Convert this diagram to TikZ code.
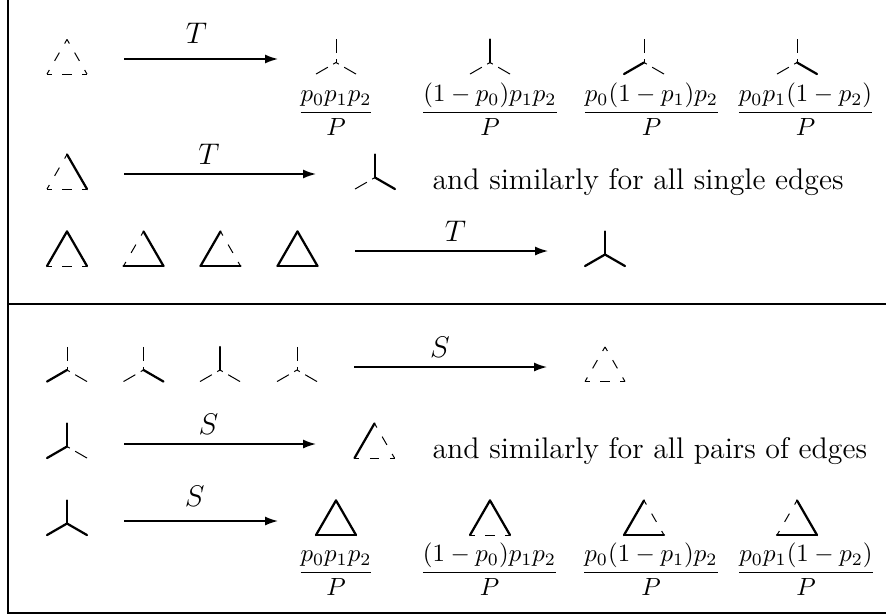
\documentclass[tikz,border=0pt]{standalone}
\usepackage{amsmath}
\usetikzlibrary{arrows.meta}
\newcommand\mytri[5]{%
  \draw[#3] ({#1},{#2-23.09}) -- ({#1-20},{#2+11.55});
  \draw[#4] ({#1},{#2-23.09}) -- ({#1+20},{#2+11.55});
  \draw[#5] ({#1-20},{#2+11.55}) -- ({#1+20},{#2+11.55});}
\newcommand\mytrip[5]{%
  \draw[#3] ({#1},{#2-23.09}) -- ({#1},{#2});
  \draw[#4] ({#1-20},{#2+11.55}) -- ({#1},{#2});
  \draw[#5] ({#1+20},{#2+11.55}) -- ({#1},{#2});}
\begin{document}
\begin{tikzpicture}[x=0.4023pt,y=-0.4023pt,
  dsh/.style={line width=0.4pt, dash pattern=on 3.8pt off 4.25pt, dash phase=1.9pt},
  sld/.style={line width=0.9pt, line cap=round},
  arm/.style={line width=0.4pt, dash pattern=on 5.5pt off 2.5pt},
  arr/.style={line width=0.6pt, -{Latex[length=5.2pt,width=3.6pt]}},
  lab/.style={inner sep=0pt, font=\large},
  txt/.style={anchor=base west, inner sep=0pt, font=\large},
  frc/.style={anchor=base, inner sep=0pt},
  rulel/.style={line width=0.5pt}]
\useasboundingbox (0,0) rectangle (886,615);
% frame
\coordinate (tl) at (8,0);
\coordinate (bl) at (8,613);
\coordinate (br) at (886,613);
\coordinate (ml) at (8,304);
\coordinate (mr) at (886,304);
\draw[rulel] (tl) -- (bl) -- (br);
\draw[rulel] (ml) -- (mr);
% row 1
\mytri{67}{62.5}{dsh}{dsh}{dsh}
\coordinate (a1s) at (124,59);
\coordinate (a1e) at (278,59);
\draw[arr] (a1s) -- node[lab,pos=0.47,above=6pt] (l1) {$T$} (a1e);
\mytrip{336}{62.5}{arm}{arm}{arm}
\mytrip{490}{62.5}{sld}{arm}{arm}
\mytrip{644}{62.5}{arm}{sld}{arm}
\mytrip{797}{62.5}{arm}{arm}{sld}
\node[frc] (f1) at (336,118.7) {$\dfrac{p_0p_1p_2}{P}$};
\node[frc] (f2) at (490,118.7) {$\dfrac{(1-p_0)p_1p_2}{P}$};
\node[frc] (f3) at (651.5,118.7) {$\dfrac{p_0(1-p_1)p_2}{P}$};
\node[frc] (f4) at (805.5,118.7) {$\dfrac{p_0p_1(1-p_2)}{P}$};
% row 2
\mytri{67}{177.5}{dsh}{sld}{dsh}
\coordinate (a2s) at (124,174);
\coordinate (a2e) at (316,174);
\draw[arr] (a2s) -- node[lab,pos=0.443,above=3.6pt] (l2) {$T$} (a2e);
\mytrip{375}{177.5}{sld}{arm}{sld}
\node[txt] (t2) at (432,189) {and similarly for all single edges};
% row 3
\mytri{67}{254.5}{sld}{sld}{dsh}
\mytri{143.5}{254.5}{dsh}{sld}{sld}
\mytri{220.5}{254.5}{sld}{dsh}{sld}
\mytri{297.5}{254.5}{sld}{sld}{sld}
\coordinate (a3s) at (355,251);
\coordinate (a3e) at (548,251);
\draw[arr] (a3s) -- node[lab,pos=0.52,above=3.6pt] (l3) {$T$} (a3e);
\mytrip{605}{254.5}{sld}{sld}{sld}
% row 4
\mytrip{67}{370}{arm}{sld}{arm}
\mytrip{143.5}{370}{arm}{arm}{sld}
\mytrip{220}{370}{sld}{arm}{arm}
\mytrip{297}{370}{arm}{arm}{arm}
\coordinate (a4s) at (354,367);
\coordinate (a4e) at (547,367);
\draw[arr] (a4s) -- node[lab,pos=0.446,above=3.6pt] (l4) {$S$} (a4e);
\mytri{605}{370}{dsh}{dsh}{dsh}
% row 5
\mytrip{67}{446.5}{sld}{sld}{arm}
\coordinate (a5s) at (124,444);
\coordinate (a5e) at (316,444);
\draw[arr] (a5s) -- node[lab,pos=0.44,above=3.6pt] (l5) {$S$} (a5e);
\mytri{374.5}{446.5}{sld}{dsh}{dsh}
\node[txt] (t5) at (432,458) {and similarly for all pairs of edges};
% row 6
\mytrip{67}{523.5}{sld}{sld}{sld}
\coordinate (a6s) at (124,521);
\coordinate (a6e) at (278,521);
\draw[arr] (a6s) -- node[lab,pos=0.46,above=5.6pt] (l6) {$S$} (a6e);
\mytri{336}{523.5}{sld}{sld}{sld}
\mytri{490}{523.5}{sld}{sld}{dsh}
\mytri{644}{523.5}{sld}{dsh}{sld}
\mytri{797}{523.5}{dsh}{sld}{sld}
\node[frc] (g1) at (336,578.5) {$\dfrac{p_0p_1p_2}{P}$};
\node[frc] (g2) at (489.5,578.5) {$\dfrac{(1-p_0)p_1p_2}{P}$};
\node[frc] (g3) at (651,578.5) {$\dfrac{p_0(1-p_1)p_2}{P}$};
\node[frc] (g4) at (806,578.5) {$\dfrac{p_0p_1(1-p_2)}{P}$};
\end{tikzpicture}
\end{document}
